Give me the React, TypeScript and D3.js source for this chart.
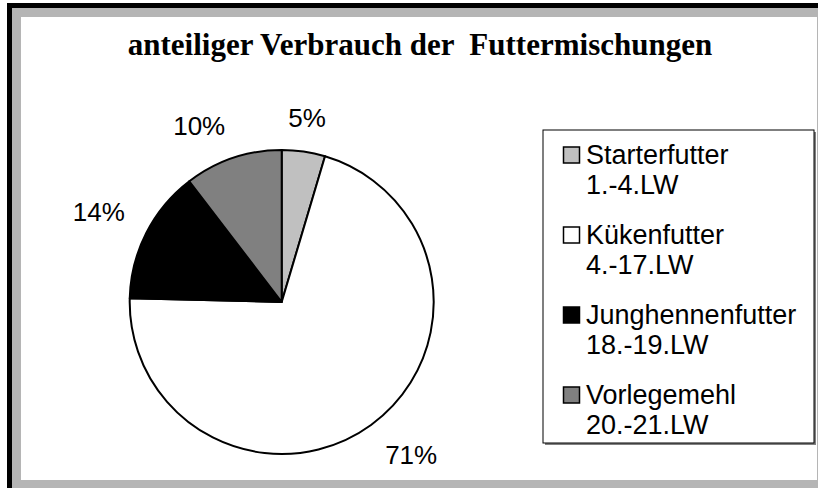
import React from "react";
import * as d3 from "d3";

const TITLE = "anteiliger Verbrauch der  Futtermischungen";
const categories = ["Starterfutter", "Kükenfutter", "Junghennenfutter", "Vorlegemehl"];
const subLabels = ["1.-4.LW", "4.-17.LW", "18.-19.LW", "20.-21.LW"];
const values = [4.6, 70.8, 14.2, 10.4];
const colors = ["#c0c0c0", "#ffffff", "#000000", "#808080"];

const W = 818;
const H = 488;

export default function App() {
  const cx = 281.7;
  const cy = 302;
  const r = 152;
  const total = d3.sum(values);
  const pie = d3
    .pie<number>()
    .sort(null)
    .value((d) => d)
    .startAngle(0)
    .endAngle(2 * Math.PI);
  const arcs = pie(values);
  const arc = d3.arc<d3.PieArcDatum<number>>().innerRadius(0).outerRadius(r);

  const labelFont = 26;
  const legendFont = 27;

  const legend = { x: 543, y: 130, w: 271, h: 313 };
  const entryStep = 80;

  return (
    <svg
      width={W}
      height={H}
      style={{ position: "absolute", left: 0, top: 0, display: "block" }}
    >
      <rect x={0} y={0} width={W} height={H} fill="#ffffff" />
      {/* frame */}
      <rect x={7} y={3} width={W - 7} height={H - 3} fill="#000000" />
      <rect x={12} y={8} width={W - 12} height={H - 8} fill="#b5b5b5" />
      <rect x={21} y={17} width={796} height={463} fill="#ffffff" />

      <text
        x={420}
        y={55}
        textAnchor="middle"
        fontFamily="'Liberation Serif', 'Times New Roman', serif"
        fontWeight="bold"
        fontSize={31}
        style={{ whiteSpace: "pre" }}
        fill="#000"
      >
        {TITLE}
      </text>

      <g transform={`translate(${cx},${cy})`}>
        {arcs.map((a, i) => (
          <path
            key={i}
            d={arc(a) || ""}
            fill={colors[i]}
            stroke="#000"
            strokeWidth={2}
            strokeLinejoin="round"
          />
        ))}
        {arcs.map((a, i) => {
          const mid = (a.startAngle + a.endAngle) / 2;
          const s = Math.sin(mid);
          const c = -Math.cos(mid);
          const rounded = Math.round((values[i] / total) * 100);
          const pct = rounded + "%";
          const w = (String(rounded).length * 0.556 + 0.889) * labelFont;
          const h = 20;
          const R = r + 24;
          const ax = R * s;
          const ay = R * c;
          const ox = Math.abs(s) > 0.3 ? Math.sign(s) * (w / 2) : 0;
          const oy = Math.abs(c) > 0.3 ? Math.sign(c) * (h / 2) : 0;
          return (
            <text
              key={"l" + i}
              x={ax + ox}
              y={ay + oy + 0.36 * labelFont}
              textAnchor="middle"
              fontFamily="'Liberation Sans', Arial, sans-serif"
              fontSize={labelFont}
              fill="#000"
            >
              {pct}
            </text>
          );
        })}
      </g>

      <rect
        x={legend.x + 2}
        y={legend.y + 2}
        width={legend.w}
        height={legend.h}
        fill="#808080"
      />
      <rect
        x={legend.x}
        y={legend.y}
        width={legend.w}
        height={legend.h}
        fill="#ffffff"
        stroke="#000"
        strokeWidth={1}
      />
      {categories.map((cat, i) => {
        const y0 = legend.y + 16.5 + i * entryStep;
        return (
          <g key={cat}>
            <rect
              x={563.5}
              y={y0 + 0.5}
              width={16}
              height={16}
              fill={colors[i]}
              stroke="#000"
              strokeWidth={1.5}
            />
            <text
              x={586}
              y={y0 + 17}
              fontFamily="'Liberation Sans', Arial, sans-serif"
              fontSize={legendFont}
              fill="#000"
            >
              {cat}
            </text>
            <text
              x={586}
              y={y0 + 47}
              fontFamily="'Liberation Sans', Arial, sans-serif"
              fontSize={legendFont}
              fill="#000"
            >
              {subLabels[i]}
            </text>
          </g>
        );
      })}
    </svg>
  );
}
